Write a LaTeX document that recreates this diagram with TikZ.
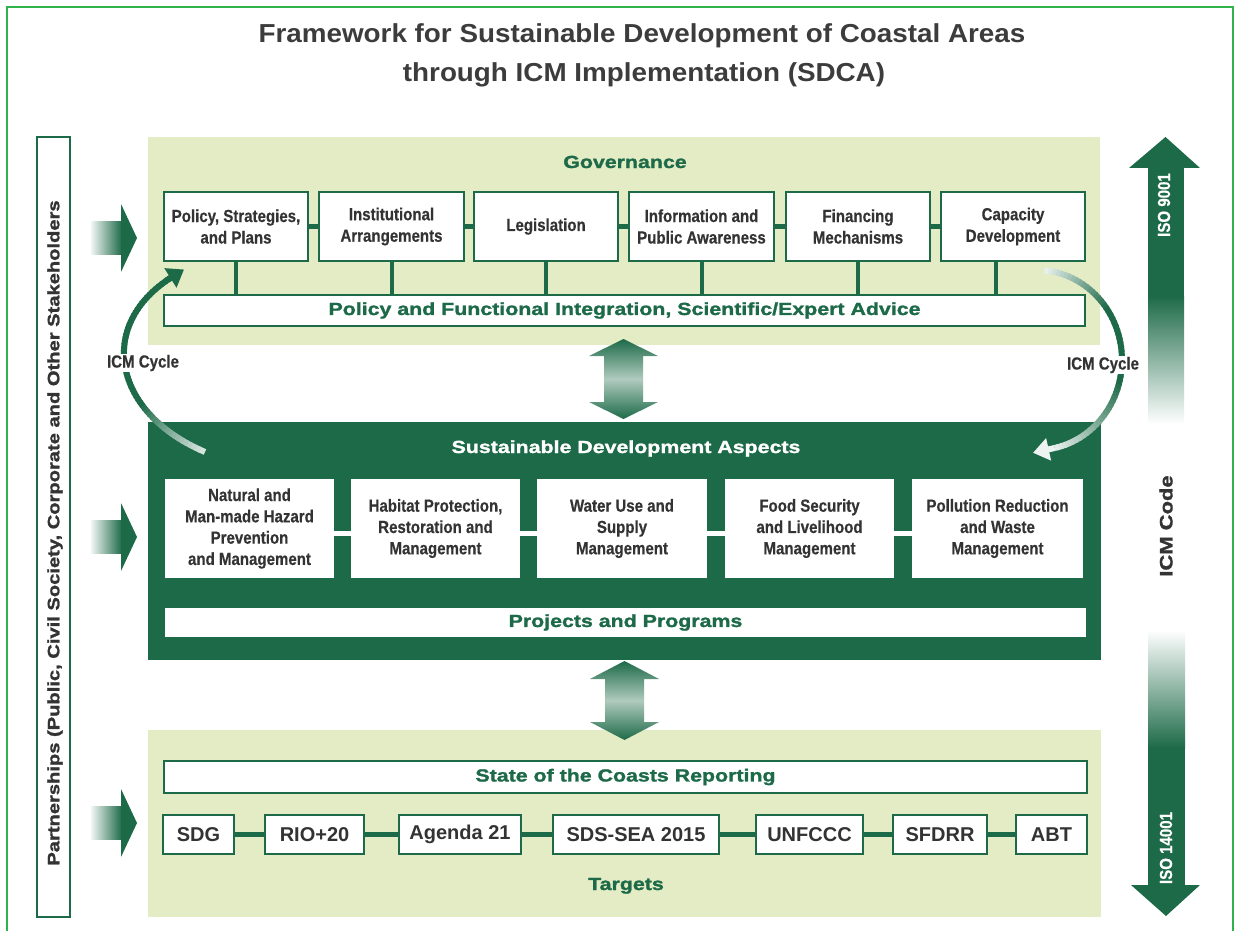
\documentclass[tikz,border=0pt]{standalone}
\usepackage{fontspec}
\setmainfont{Liberation Sans}
\newfontfamily\nbf{Liberation Sans}[FakeStretch=0.86, FakeBold=0.4]
\newfontfamily\wbf{Liberation Sans}[FakeStretch=1.22, FakeBold=1.4]
\newfontfamily\tbf{Liberation Sans}[FakeStretch=1.07]
\usetikzlibrary{arrows.meta,calc}
\definecolor{dkgreen}{HTML}{1D6A48}
\definecolor{panelc}{HTML}{E4ECC6}
\definecolor{borderc}{HTML}{2DB34A}
\definecolor{txtgray}{HTML}{333333}
\definecolor{titlegray}{HTML}{3C3C3C}
\tikzset{
  panel/.style={fill=panelc, draw=none, inner sep=0pt},
  darkpanel/.style={fill=dkgreen, draw=none, inner sep=0pt},
  govbox/.style={draw=dkgreen, line width=2.5pt, fill=white, inner sep=0pt, align=center, text=txtgray,
    font=\nbf\bfseries\fontsize{17.5}{21.5}\selectfont, minimum height=69pt},
  sdabox/.style={fill=white, draw=none, inner sep=0pt, align=center, text=txtgray,
    font=\nbf\bfseries\fontsize{17.5}{21.3}\selectfont, minimum height=99pt},
  tgtbox/.style={draw=dkgreen, line width=2.5pt, fill=white, inner sep=0pt, text=txtgray,
    font=\bfseries\fontsize{20}{24}\selectfont, minimum height=39pt},
  barbox/.style={draw=dkgreen, line width=2.5pt, fill=white, inner sep=0pt, text=dkgreen,
    font=\wbf\bfseries\fontsize{17.5}{21}\selectfont},
  wlabel/.style={font=\wbf\bfseries\fontsize{17.5}{21}\selectfont, inner sep=0pt},
  gconn/.style={draw=dkgreen, line width=5pt},
  vconn/.style={draw=dkgreen, line width=4pt},
  wconn/.style={draw=white, line width=5pt},
  cyclabel/.style={fill=white, text=txtgray, font=\nbf\bfseries\fontsize{17.5}{21}\selectfont, inner sep=1pt},
  isolabel/.style={text=white, rotate=90, font=\nbf\bfseries\fontsize{17.5}{21}\selectfont, inner sep=0pt},
}
\def\bz#1#2#3#4#5{((1-#5)^3*(#1)+3*(1-#5)^2*(#5)*(#2)+3*(1-#5)*(#5)^2*(#3)+(#5)^3*(#4))}
\begin{document}
\begin{tikzpicture}[x=1pt,y=-1pt]
\useasboundingbox (0,0) rectangle (1237,931);
\fill[white] (0,0) rectangle (1237,931);
\draw[borderc, line width=2pt] (7,931) -- (7,7) -- (1233,7) -- (1233,931);

% title
\node[font=\tbf\bfseries\fontsize{26}{30}\selectfont, text=titlegray, anchor=base, inner sep=0pt] (title1) at (642,43) {Framework for Sustainable Development of Coastal Areas};
\node[font=\tbf\bfseries\fontsize{26}{30}\selectfont, text=titlegray, anchor=base, inner sep=0pt] (title2) at (644,82) {through ICM Implementation (SDCA)};

% panels
\node[panel, minimum width=952pt, minimum height=208pt] (gov) at (624,241) {};
\node[darkpanel, minimum width=953pt, minimum height=238pt] (sda) at (624.5,541) {};
\node[panel, minimum width=953pt, minimum height=187pt] (tgt) at (624.5,823.5) {};

% side bar
\node[draw=dkgreen, line width=2.5pt, fill=white, minimum width=33pt, minimum height=780pt, inner sep=0pt] (side) at (53.5,527) {};
\node[font=\wbf\bfseries\fontsize{16.5}{20}\selectfont, text=txtgray, rotate=90, inner sep=0pt] (sidetxt) at (55,533) {Partnerships (Public, Civil Society, Corporate and Other Stakeholders};

% left arrows
\foreach \c in {238,537,823}{
  \shade[left color=dkgreen!6, right color=dkgreen] (91,\c-16.5) rectangle (122,\c+16.5);
  \fill[dkgreen] (121,\c-34) -- (137,\c) -- (121,\c+34) -- cycle;
}

% ISO arrows
\fill[dkgreen] (1129,168) -- (1165.5,137) -- (1200,168) -- cycle;
\fill[dkgreen] (1148,167) rectangle (1184,297);
\shade[top color=dkgreen, bottom color=white] (1148,296) rectangle (1184,424);
\shade[top color=white, bottom color=dkgreen] (1148,630) rectangle (1185,748);
\fill[dkgreen] (1148,747) rectangle (1185,886);
\fill[dkgreen] (1131,885) -- (1166,916) -- (1200,885) -- cycle;
\node[isolabel] (iso1) at (1164,205) {ISO 9001};
\node[isolabel] (iso2) at (1166,848) {ISO 14001};
\node[wlabel, text=txtgray, rotate=90, font=\wbf\bfseries\fontsize{18}{21}\selectfont] (icmcode) at (1166,526) {ICM Code};

% double arrows
\shade[top color=dkgreen, bottom color=dkgreen, middle color=dkgreen!35] (623.5,339) -- (658,356) -- (643,356) -- (643,402) -- (658,402) -- (623.5,419) -- (589,402) -- (604,402) -- (604,356) -- (589,356) -- cycle;
\shade[top color=dkgreen, bottom color=dkgreen, middle color=dkgreen!35] (624.5,661) -- (659,679) -- (644,679) -- (644,722) -- (659,722) -- (624.5,740) -- (590,722) -- (605,722) -- (605,679) -- (590,679) -- cycle;

% ICM cycle left (bezier with gradient)
\foreach \i in {0,...,59}{
  \pgfmathsetmacro\ta{\i/60}
  \pgfmathsetmacro\tb{min(1,(\i+1.4)/60)}
  \pgfmathsetmacro\xa{\bz{205}{113}{95.5}{172}{\ta}}
  \pgfmathsetmacro\ya{\bz{452}{413}{325}{277}{\ta}}
  \pgfmathsetmacro\xb{\bz{205}{113}{95.5}{172}{\tb}}
  \pgfmathsetmacro\yb{\bz{452}{413}{325}{277}{\tb}}
  \pgfmathsetmacro\cc{min(100,18+82*\ta/0.3)}
  \draw[line width=6pt, dkgreen!\cc!white] (\xa,\ya) -- (\xb,\yb);
}
\draw[line width=6pt, dkgreen, -{Triangle[length=16pt,width=22pt]}] (166,280.7) -- (184,269.5);

% ICM cycle right (ellipse with gradient)
\foreach \i in {0,...,59}{
  \pgfmathsetmacro\ta{\i/60}
  \pgfmathsetmacro\tb{min(1,(\i+1.4)/60)}
  \pgfmathsetmacro\pa{-85+163*\ta}
  \pgfmathsetmacro\pb{-85+163*\tb}
  \pgfmathsetmacro\xa{1037+85*cos(\pa)}
  \pgfmathsetmacro\ya{360+90*sin(\pa)}
  \pgfmathsetmacro\xb{1037+85*cos(\pb)}
  \pgfmathsetmacro\yb{360+90*sin(\pb)}
  \pgfmathsetmacro\cc{\ta<0.3 ? 10+90*\ta/0.3 : (\ta<0.6 ? 100 : max(8,100-92*(\ta-0.6)/0.4))}
  \draw[line width=6pt, dkgreen!\cc!white] (\xa,\ya) -- (\xb,\yb);
}
\draw[line width=6pt, dkgreen!8!white, -{Triangle[length=16pt,width=22pt]}] (1054.7,448) -- (1033,452.8);

\node[cyclabel] (cycl) at (143,363) {ICM Cycle};
\node[cyclabel] (cycr) at (1103,365) {ICM Cycle};

% governance
\node[wlabel, text=dkgreen, anchor=base] (govlab) at (625,168) {Governance};
\node[govbox, minimum width=144pt] (g1) at (236,226.5) {Policy, Strategies,\\and Plans};
\node[govbox, minimum width=145pt] (g2) at (391.5,226.5) {Institutional\\Arrangements};
\node[govbox, minimum width=144pt] (g3) at (546,226.5) {Legislation};
\node[govbox, minimum width=145pt] (g4) at (701.5,226.5) {Information and\\Public Awareness};
\node[govbox, minimum width=144pt] (g5) at (858,226.5) {Financing\\Mechanisms};
\node[govbox, minimum width=144pt] (g6) at (1013,226.5) {Capacity\\Development};
\node[barbox, minimum width=921pt, minimum height=31pt] (bar) at (624.5,310.5) {Policy and Functional Integration, Scientific/Expert Advice};
\foreach \a/\b in {g1/g2,g2/g3,g3/g4,g4/g5,g5/g6}{
  \draw[gconn] (\a.east) -- (\b.west);
}
\foreach \a in {g1,g2,g3,g4,g5}{
  \draw[vconn] (\a.south) -- (\a.south |- bar.north);
}
\coordinate (g6v) at ($(g6.south)+(-17,0)$);
\draw[vconn] (g6v) -- (g6v |- bar.north);

% sustainable development aspects
\node[wlabel, text=white, anchor=base] (sdalab) at (626,453) {Sustainable Development Aspects};
\node[sdabox, minimum width=169pt] (s1) at (249.5,528.5) {Natural and\\Man-made Hazard\\Prevention\\and Management};
\node[sdabox, minimum width=169pt] (s2) at (435.5,528.5) {Habitat Protection,\\Restoration and\\Management};
\node[sdabox, minimum width=170pt] (s3) at (622,528.5) {Water Use and\\Supply\\Management};
\node[sdabox, minimum width=169pt] (s4) at (809.5,528.5) {Food Security\\and Livelihood\\Management};
\node[sdabox, minimum width=171pt] (s5) at (997.5,528.5) {Pollution Reduction\\and Waste\\Management};
\foreach \a/\b in {s1/s2,s2/s3,s3/s4,s4/s5}{
  \draw[wconn] ($(\a.east)+(0,5)$) -- ($(\b.west)+(0,5)$);
}
\node[barbox, draw=none, minimum width=921pt, minimum height=29pt] (proj) at (625.5,622.5) {Projects and Programs};

% targets
\node[barbox, minimum width=923pt, minimum height=32pt] (socr) at (625.5,777) {State of the Coasts Reporting};
\node[tgtbox, minimum width=71pt] (t1) at (198.5,834.5) {SDG};
\node[tgtbox, minimum width=99pt] (t2) at (314.5,834.5) {RIO+20};
\node[tgtbox, minimum width=122pt] (t3) at (460,834.5) {Agenda 21};
\node[tgtbox, minimum width=166pt] (t4) at (636,834.5) {SDS-SEA 2015};
\node[tgtbox, minimum width=107pt] (t5) at (809.5,834.5) {UNFCCC};
\node[tgtbox, minimum width=94pt] (t6) at (940,834.5) {SFDRR};
\node[tgtbox, minimum width=71pt] (t7) at (1051.5,834.5) {ABT};
\foreach \a/\b in {t1/t2,t2/t3,t3/t4,t4/t5,t5/t6,t6/t7}{
  \draw[gconn] (\a.east) -- (\b.west);
}
\node[wlabel, text=dkgreen, anchor=base] (tgtlab) at (626,890) {Targets};
\end{tikzpicture}
\end{document}
